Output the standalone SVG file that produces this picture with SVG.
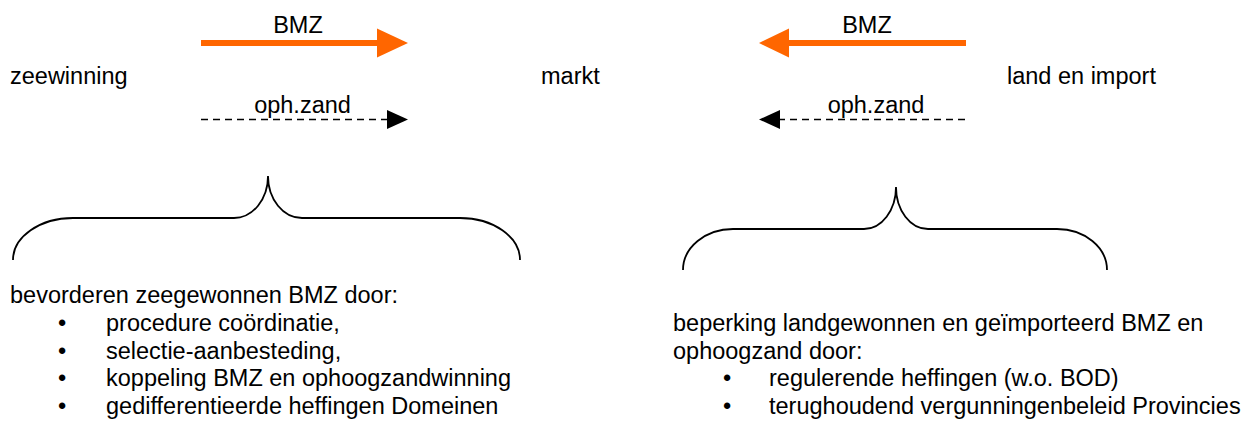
<svg xmlns="http://www.w3.org/2000/svg" width="1252" height="421" viewBox="0 0 1252 421">
<style>
text{font-family:"Liberation Sans",Arial,sans-serif;font-size:23.5px;fill:#000}
.mid{text-anchor:middle}
.orange{stroke:#FF6600;stroke-width:6;fill:none}
.dash{stroke:#000;stroke-width:1.6;stroke-dasharray:7 5;fill:none}
.brace{stroke:#000;stroke-width:1.8;fill:none}
</style>
<rect width="1252" height="421" fill="#fff"/>
<g id="zeewinning"><text x="10" y="84">zeewinning</text></g>
<g id="markt"><text x="541" y="84">markt</text></g>
<g id="land-en-import"><text x="1007" y="84">land en import</text></g>
<g id="connectors">
<line class="orange" x1="201" y1="43" x2="380" y2="43"/>
<polygon points="377,28.5 408,43 377,57.5" fill="#FF6600"/>
<text class="mid" x="298" y="33">BMZ</text>
<line class="dash" x1="201" y1="119.5" x2="389" y2="119.5"/>
<polygon points="387,110 408,119.5 387,129" fill="#000"/>
<text class="mid" x="302.5" y="113">oph.zand</text>
<line class="orange" x1="786" y1="43" x2="966" y2="43"/>
<polygon points="789,28.5 759,43 789,57.5" fill="#FF6600"/>
<text class="mid" x="867" y="33">BMZ</text>
<line class="dash" x1="778" y1="119.5" x2="966" y2="119.5"/>
<polygon points="780,110 759,119.5 780,129" fill="#000"/>
<text class="mid" x="876" y="113">oph.zand</text>
</g>
<g id="brace-left"><path class="brace" d="M13,260 C13,236.8 40,218 73,218 L234,218 C252.8,218 268,199.2 268,176 C268,199.2 283.2,218 302,218 L460,218 C493,218 520,236.8 520,260"/></g>
<g id="brace-right"><path class="brace" d="M683,270 C683,247.4 705.4,229 733,229 L864,229 C881.7,229 896,210.2 896,187 C896,210.2 910.3,229 928,229 L1057,229 C1084.6,229 1107,247.4 1107,270"/></g>
<g id="text-left">
<text x="10" y="303">bevorderen zeegewonnen BMZ door:</text>
<text class="mid" x="62" y="331">•</text><text x="106" y="331">procedure coördinatie,</text>
<text class="mid" x="62" y="358.5">•</text><text x="106" y="358.5">selectie-aanbesteding,</text>
<text class="mid" x="62" y="386">•</text><text x="106" y="386">koppeling BMZ en ophoogzandwinning</text>
<text class="mid" x="62" y="413.5">•</text><text x="106" y="413.5">gedifferentieerde heffingen Domeinen</text>
</g>
<g id="text-right">
<text x="673" y="331">beperking landgewonnen en geïmporteerd BMZ en</text>
<text x="673" y="358.5">ophoogzand door:</text>
<text class="mid" x="727" y="386">•</text><text x="769" y="386">regulerende heffingen (w.o. BOD)</text>
<text class="mid" x="727" y="413.5">•</text><text x="769" y="413.5">terughoudend vergunningenbeleid Provincies</text>
</g>
</svg>
